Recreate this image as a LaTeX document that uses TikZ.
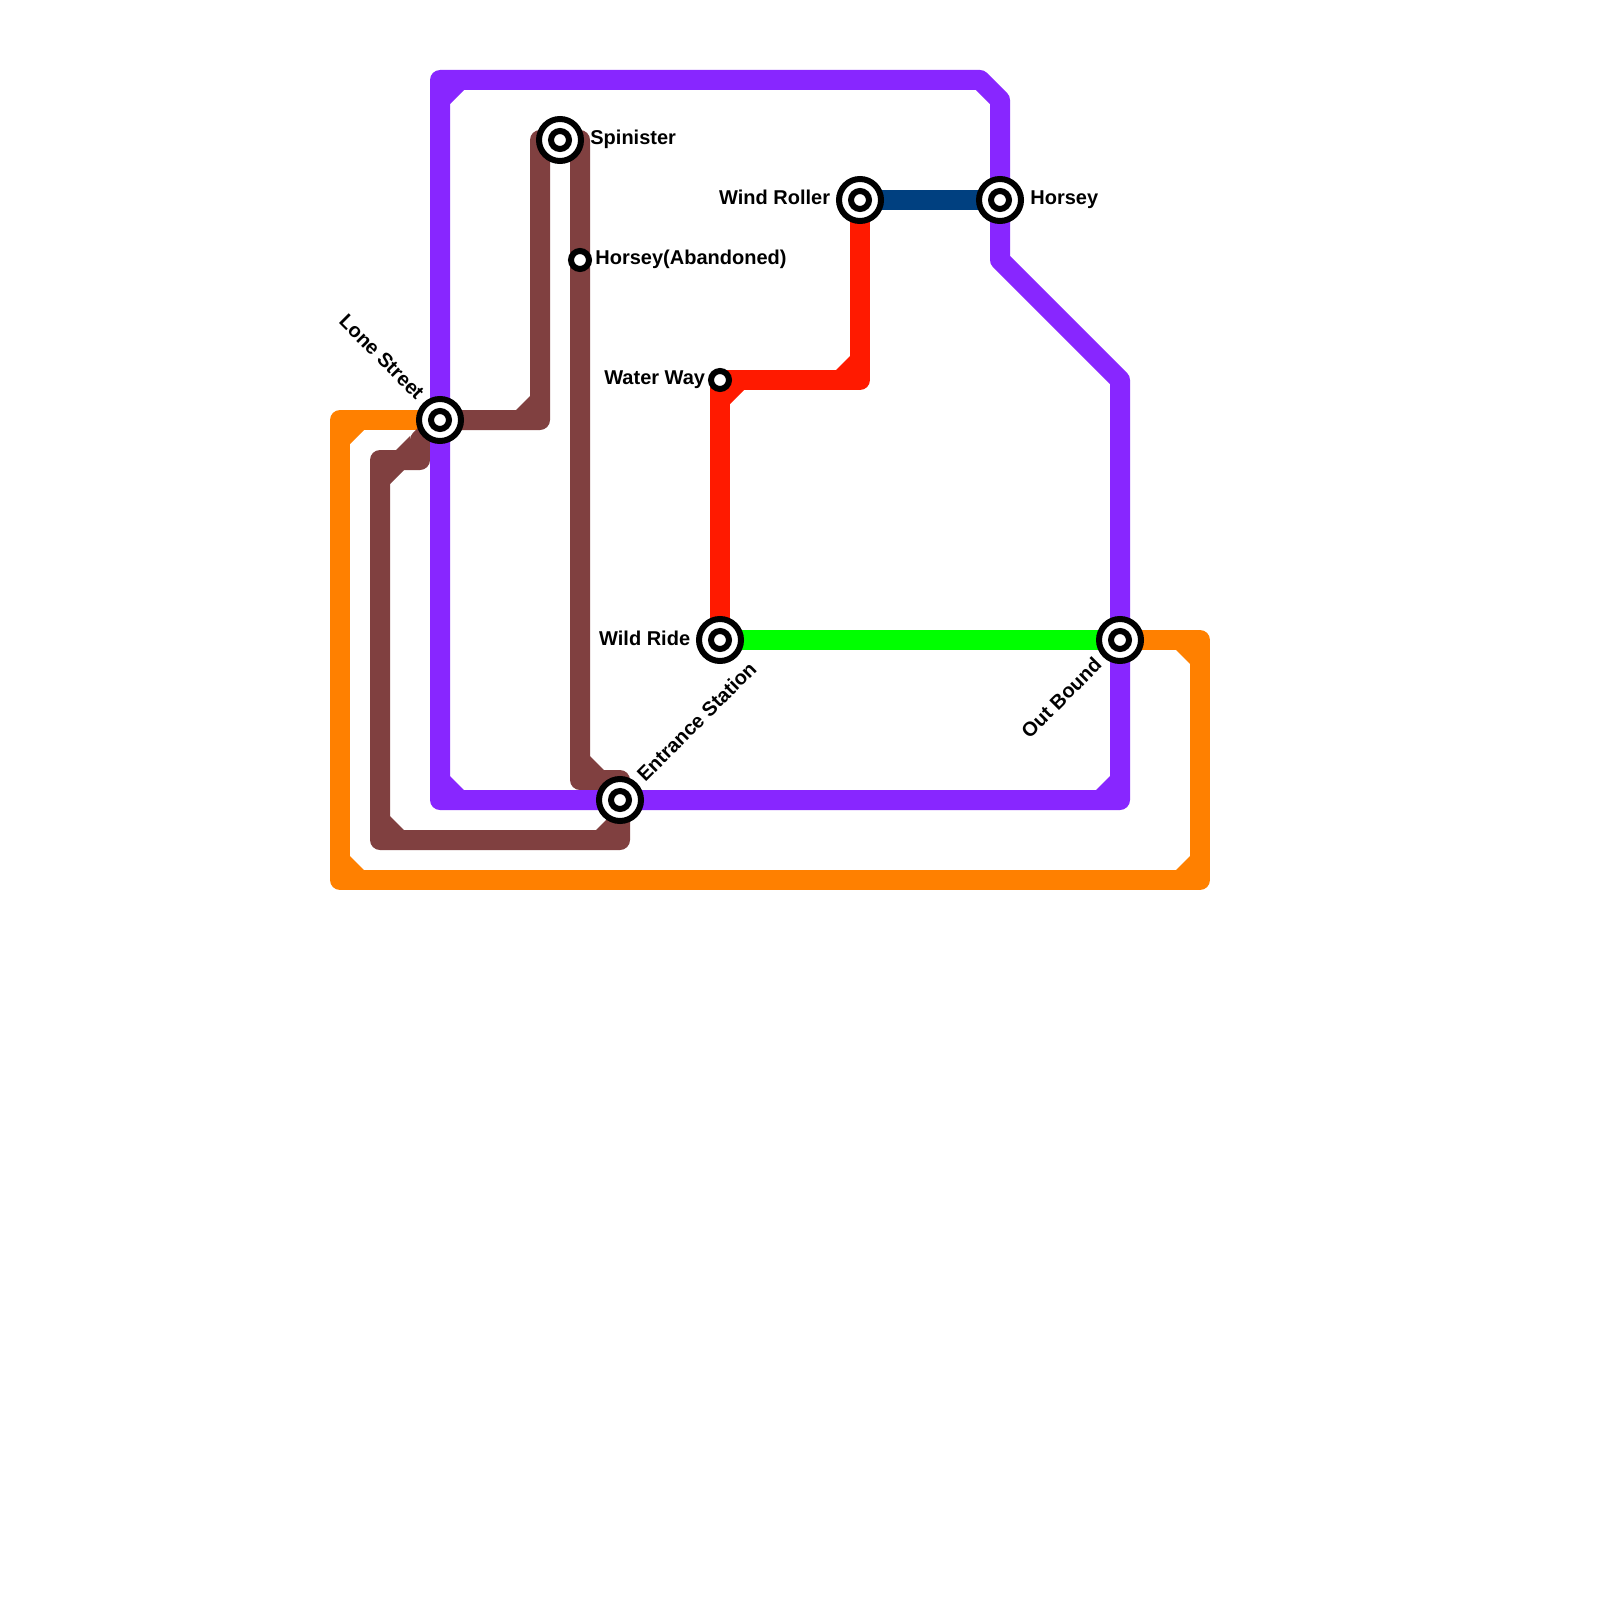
\documentclass[tikz,border=0pt]{standalone}
\usepackage{fontspec}
\setmainfont{Liberation Sans}
\usetikzlibrary{backgrounds}
\definecolor{lpurple}{HTML}{8826FF}
\definecolor{lorange}{HTML}{FF8000}
\definecolor{lbrown}{HTML}{804040}
\definecolor{lred}{HTML}{FF1A00}
\definecolor{lgreen}{HTML}{00FF00}
\definecolor{lblue}{HTML}{004080}
\newcommand{\chamf}[5]{\fill[#1] (#2,#3) -- ++(#4,0) -- ++(-#4,#5) -- cycle;}
\tikzset{
  metro/.style={line width=10pt,line join=round,line cap=butt},
  stn/.style={circle,draw=black,fill=white,line width=3pt,minimum size=21pt,inner sep=0pt,outer sep=0pt,
    path picture={\draw[black,line width=3pt] (path picture bounding box.center) circle (4.5pt);}},
  halt/.style={circle,draw=black,fill=white,line width=3pt,minimum size=9pt,inner sep=0pt,outer sep=0pt},
  lbl/.style={font=\bfseries\fontsize{10}{12}\selectfont,text=black,inner sep=0pt}
}
\begin{document}
\begin{tikzpicture}[x=0.5pt,y=-0.5pt]
\useasboundingbox (0,0) rectangle (1600,1600);
% stations
\node[stn] (lone) at (440,420) {};
\node[stn] (spin) at (560,140) {};
\node[halt] (aban) at (580,260) {};
\node[halt] (water) at (720,380) {};
\node[stn] (wind) at (860,200) {};
\node[stn] (hors) at (1000,200) {};
\node[stn] (wild) at (720,640) {};
\node[stn] (outb) at (1120,640) {};
\node[stn] (entr) at (620,800) {};
% labels
\node[lbl,anchor=base west] (tspin) at (590,145) {Spinister};
\node[lbl,anchor=base west] (taban) at (595,264.5) {Horsey(Abandoned)};
\node[lbl,anchor=base east] (twater) at (705.5,384.5) {Water Way};
\node[lbl,anchor=base east] (twind) at (830.5,204.5) {Wind Roller};
\node[lbl,anchor=base west] (thors) at (1030,204.5) {Horsey};
\node[lbl,anchor=base east] (twild) at (690.5,645) {Wild Ride};
\node[lbl,rotate=-45,anchor=east] (tlone) at (421,396) {Lone Street};
\node[lbl,rotate=45,anchor=east] (toutb) at (1098,661) {Out Bound};
\node[lbl,rotate=45,anchor=west] (tentr) at (640,778) {Entrance Station};
% bend points
\coordinate (o1) at (340,420);
\coordinate (o2) at (340,880);
\coordinate (o3) at (1200,880);
\coordinate (o4) at (1200,640);
\coordinate (b1) at (540,420);
\coordinate (b2) at (540,140);
\coordinate (b3) at (580,140);
\coordinate (b4) at (580,780);
\coordinate (b5) at (620,780);
\coordinate (b6) at (620,840);
\coordinate (b7) at (380,840);
\coordinate (b8) at (380,460);
\coordinate (b9) at (420,460);
\coordinate (b10) at (420,440);
\coordinate (p1) at (440,80);
\coordinate (p2) at (980,80);
\coordinate (p3) at (1000,100);
\coordinate (p4) at (1000,260);
\coordinate (p5) at (1120,380);
\coordinate (p6) at (1120,800);
\coordinate (p7) at (440,800);
\coordinate (r2) at (860,380);
\begin{pgfonlayer}{background}
\fill[white] (0,0) rectangle (1600,1600);
% orange
\draw[metro,lorange] (lone.center) -- (o1) -- (o2) -- (o3) -- (o4) -- (outb.center);
\chamf{lorange}{350}{430}{14}{14}
\chamf{lorange}{350}{870}{14}{-14}
\chamf{lorange}{1190}{870}{-14}{-14}
\chamf{lorange}{1190}{650}{-14}{14}
% brown
\draw[metro,lbrown] (lone.center) -- (b1) -- (b2) -- (b3) -- (aban.center) -- (b4) -- (b5) -- (b6) -- (b7) -- (b8) -- (b9) -- (b10) -- (lone.center);
\chamf{lbrown}{530}{410}{-14}{-14}
\chamf{lbrown}{590}{770}{14}{-14}
\chamf{lbrown}{610}{830}{-14}{-14}
\chamf{lbrown}{390}{830}{14}{-14}
\chamf{lbrown}{390}{470}{14}{14}
\chamf{lbrown}{410}{450}{-14}{-14}
% purple
\draw[metro,lpurple] (p1) -- (p2) -- (p3) -- (hors.center) -- (p4) -- (p5) -- (outb.center) -- (p6) -- (entr.center) -- (p7) -- (lone.center) -- cycle;
\chamf{lpurple}{450}{90}{14}{14}
\chamf{lpurple}{450}{790}{14}{-14}
\chamf{lpurple}{1110}{790}{-14}{-14}
% red
\draw[metro,lred] (wild.center) -- (water.center) -- (r2) -- (wind.center);
\chamf{lred}{730}{390}{14}{14}
\chamf{lred}{850}{370}{-14}{-14}
% green and blue
\draw[metro,lgreen] (wild) -- (outb);
\draw[metro,lblue] (wind) -- (hors);
\end{pgfonlayer}
\end{tikzpicture}
\end{document}
